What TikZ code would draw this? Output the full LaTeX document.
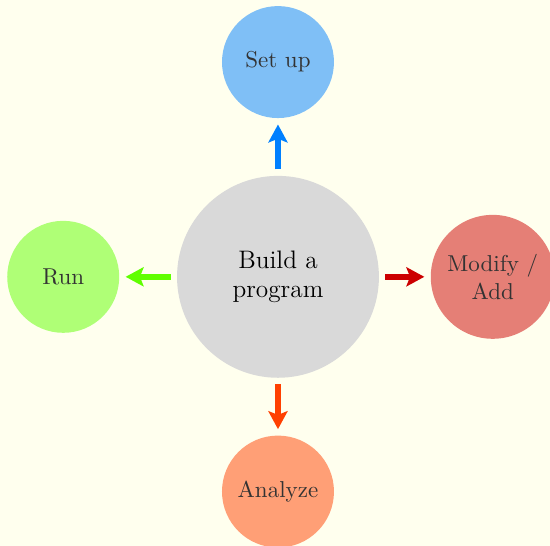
\documentclass[tikz,border=0pt]{standalone}
\usepackage{tikz}
\usetikzlibrary{arrows.meta,backgrounds,positioning}
\definecolor{paper}{RGB}{255,255,238}
\colorlet{setupcol}{blue!50!cyan}
\colorlet{runcol}{green!50!lime}
\colorlet{modifycol}{red!80!black}
\colorlet{analyzecol}{red!50!orange}

\begin{document}
\begin{tikzpicture}
	[x=1pt, y=1pt, inner sep=0pt, node distance=93.4pt, on grid,
	hub/.style		= {circle, fill=gray!30, minimum size=87.8pt, align=center, font=\fontsize{11}{12.5}\selectfont},
	satellite/.style	= {circle, fill=#1, fill opacity=.5, text opacity=1, text=black!80, minimum size=48.7pt, align=center},
	link/.style		= {draw=#1, line width=2.6pt, -{Stealth[length=7.8pt, width=8.3pt, inset=1.6pt]}, shorten <=2.6pt, shorten >=2.6pt}]

	\useasboundingbox [fill=paper] (-120.9,-117) rectangle (118.3,120.4);

	\node [hub]				at (0,0)			(build)		{Build a\\program};
	\node [satellite=setupcol]	[above = of build]	(setup)		{Set up};
	\node [satellite=runcol]		[left  = of build]	(run)		{Run};
	\node [satellite=modifycol, minimum size=53.9pt]	[right = of build]	(modify)	{Modify /\\Add};
	\node [satellite=analyzecol]	[below = of build]	(analyze)	{Analyze};

	\draw [link=setupcol]	(build) -- (setup);
	\draw [link=runcol]		(build) -- (run);
	\draw [link=modifycol]	(build) -- (modify);
	\draw [link=analyzecol]	(build) -- (analyze);
\end{tikzpicture}
\end{document}
